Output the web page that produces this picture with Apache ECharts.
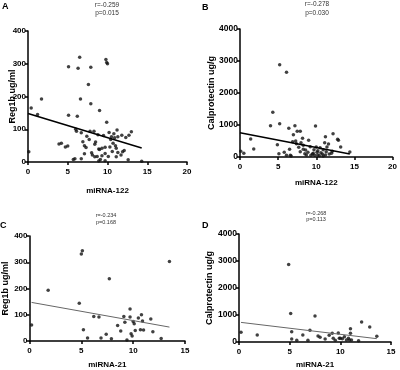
<!DOCTYPE html>
<html>
<head>
<meta charset="utf-8">
<script src="https://cdn.jsdelivr.net/npm/echarts@6/dist/echarts.min.js"></script>
<style>
  html, body { margin: 0; padding: 0; background: #fff; }
  #chart { width: 400px; height: 370px; }
</style>
</head>
<body>
<div id="chart"></div>
<script>
// Panel A: miRNA-122 vs Reg1b
const a_x = [0.1, 0.4, 1.2, 1.7, 3.9, 4.2, 4.7, 5.0, 5.1, 5.1, 5.7, 5.9, 6.0, 6.1, 6.2, 6.3, 6.5, 6.6, 6.7, 6.7,
  6.9, 7.1, 7.1, 7.3, 7.4, 7.6, 7.7, 7.8, 7.9, 7.9, 8.0, 8.1, 8.3, 8.4, 8.4, 8.5, 8.7, 8.8, 8.9, 8.9,
  9.0, 9.0, 9.1, 9.3, 9.3, 9.5, 9.7, 9.8, 9.9, 9.9, 10.0, 9.7, 9.7, 10.1, 10.2, 10.3, 10.4, 10.5, 10.6, 10.7,
  10.8, 10.9, 11.0, 11.1, 11.1, 11.2, 11.3, 11.3, 11.7, 11.8, 11.9, 12.1, 12.3, 12.6, 12.7, 13.0, 14.3];
const a_y = [31, 165, 145, 192, 55, 57, 46, 49, 291, 143, 8, 10, 100, 94, 140, 286, 320, 192, 89, 10,
  62, 50, 25, 44, 79, 237, 69, 94, 289, 178, 28, 21, 94, 54, 16, 61, 17, 83, 40, 3,
  157, 38, 8, 19, 42, 81, 4, 313, 121, 304, 300, 26, 45, 17, 90, 46, 69, 77, 32, 57,
  86, 74, 50, 42, 16, 98, 29, 77, 21, 82, 31, 35, 75, 7, 82, 92, 2];
const a_fit_x = [0, 14.3];
const a_fit_y = [148, 43];

// Panel B: miRNA-122 vs Calprotectin
const b_x = [0.1, 0.5, 1.4, 1.8, 4.0, 4.3, 4.9, 5.2, 5.2, 5.1, 5.8, 6.1, 6.1, 6.4, 6.5, 6.6, 6.7, 6.9, 7.0, 7.2,
  7.3, 7.4, 7.5, 7.9, 7.7, 7.9, 8.0, 8.2, 8.3, 8.3, 8.5, 8.6, 8.7, 8.9, 9.0, 9.2, 9.3, 9.5, 9.7, 9.8,
  9.9, 10.0, 10.2, 10.2, 10.4, 10.5, 10.6, 10.8, 10.9, 11.1, 11.2, 11.2, 11.3, 11.4, 11.6, 11.7, 12.0, 12.1, 12.2, 12.8,
  12.9, 13.2, 14.4, 9.6, 10.1, 10.9];
const b_y = [177, 115, 562, 250, 979, 1396, 385, 1042, 2885, 104, 146, 2646, 52, 896, 240, 52, 31, 479, 698, 979,
  500, 417, 802, 802, 302, 167, 448, 583, 365, 240, 104, 219, 62, 146, 521, 323, 52, 94, 229, 52,
  969, 313, 62, 198, 42, 292, 135, 94, 229, 448, 62, 635, 167, 313, 406, 94, 115, 177, 729, 552,
  521, 313, 156, 120, 150, 30];
const b_fit_x = [0, 14.4];
const b_fit_y = [760, 95];

// Panel C: miRNA-21 vs Reg1b
const c_x = [0.2, 1.8, 4.8, 5.0, 5.1, 5.2, 5.6, 6.2, 6.7, 6.9, 7.4, 7.7, 7.9, 8.5, 8.8, 9.1, 9.2, 9.4, 9.7, 9.7,
  9.8, 9.9, 10.0, 10.1, 10.2, 10.5, 10.7, 10.8, 10.9, 11.0, 11.7, 11.9, 12.7, 13.5];
const c_y = [61, 193, 144, 331, 344, 43, 11, 93, 91, 11, 26, 237, 9, 59, 38, 93, 71, 4, 122, 91,
  28, 19, 74, 66, 40, 88, 43, 100, 76, 42, 84, 35, 10, 303];
const c_fit_x = [0.2, 13.5];
const c_fit_y = [147, 53];

// Panel D: miRNA-21 vs Calprotectin
const d_x = [0.2, 1.8, 4.9, 5.1, 5.2, 5.2, 5.7, 6.3, 6.8, 7.0, 7.5, 7.8, 8.0, 8.5, 8.9, 9.2, 9.3, 9.5, 9.8, 9.9,
  10.0, 10.2, 10.4, 10.6, 10.8, 11.0, 11.0, 10.9, 11.1, 11.8, 12.1, 12.9, 13.6];
const d_y = [357, 258, 2868, 1058, 111, 382, 62, 258, 62, 431, 960, 222, 172, 111, 246, 320, 135, 62, 332, 135,
  135, 123, 197, 74, 135, 492, 320, 74, 74, 49, 738, 554, 209];
const d_fit_x = [0.2, 13.6];
const d_fit_y = [726, 123];

const panelLabels = ["A", "B", "C", "D"];
const stats = ["r=-0.259\np=0.015", "r=-0.278\np=0.030", "r=-0.234\np=0.168", "r=-0.268\np=0.113"];
const xNames = ["miRNA-122", "miRNA-122", "miRNA-21", "miRNA-21"];
const yNames = ["Reg1b ug/ml", "Calprotectin ug/g", "Reg1b ug/ml", "Calprotectin ug/g"];

const zip = (xs, ys) => xs.map((v, i) => [v, ys[i]]);

const chart = echarts.init(document.getElementById("chart"));

const font = "Liberation Sans, Arial, sans-serif";

const grids = [
  { left: 28, right: 213, top: 31, bottom: 208 },
  { left: 240, right: 5, top: 29, bottom: 213 },
  { left: 28, right: 215, top: 236, bottom: 26 },
  { left: 239, right: 9, top: 234, bottom: 28 },
];

const xMax = [20, 20, 15, 15];
const yMax = [400, 4000, 400, 4000];
const yStep = [100, 1000, 100, 1000];
const xNameGap = [25, 22, 20, 19];
const yNameGap = [10.5, 23.5, 19.5, 24.5];
const yLabelSize = [8, 8.5, 8, 8.5];

const axisLine = { lineStyle: { color: "#000", width: 1.5 } };
const axisTick = { length: 3, lineStyle: { color: "#000", width: 1.5 } };

const xAxes = grids.map((g, i) => ({
  gridIndex: i,
  type: "value",
  min: 0,
  max: xMax[i],
  interval: 5,
  splitLine: { show: false },
  axisLine: axisLine,
  axisTick: axisTick,
  axisLabel: { fontSize: 8, fontWeight: "bold", color: "#000", fontFamily: font, margin: 6 },
  name: xNames[i],
  nameLocation: "middle",
  nameGap: xNameGap[i],
  nameMoveOverlap: false,
  nameTextStyle: { fontSize: 8, fontWeight: "bold", color: "#000", fontFamily: font },
}));

const yAxes = grids.map((g, i) => ({
  gridIndex: i,
  type: "value",
  min: 0,
  max: yMax[i],
  interval: yStep[i],
  splitLine: { show: false },
  axisLine: axisLine,
  axisTick: axisTick,
  axisLabel: {
    fontSize: yLabelSize[i], fontWeight: "bold", color: "#000", fontFamily: font, margin: 2,
    formatter: (v) => String(v),
  },
  name: yNames[i],
  nameLocation: "middle",
  nameGap: yNameGap[i],
  nameMoveOverlap: false,
  nameTextStyle: { fontSize: 9, fontWeight: "bold", color: "#000", fontFamily: font },
}));

const scatterData = [zip(a_x, a_y), zip(b_x, b_y), zip(c_x, c_y), zip(d_x, d_y)];
const fitData = [zip(a_fit_x, a_fit_y), zip(b_fit_x, b_fit_y), zip(c_fit_x, c_fit_y), zip(d_fit_x, d_fit_y)];
const fitColor = ["#000", "#000", "#666", "#666"];
const fitWidth = [1.6, 1.6, 1, 1];

const series = [];
scatterData.forEach((d, i) => {
  series.push({
    type: "scatter",
    xAxisIndex: i,
    yAxisIndex: i,
    data: d,
    symbolSize: 3.5,
    itemStyle: { color: "#111" },
  });
  series.push({
    type: "line",
    xAxisIndex: i,
    yAxisIndex: i,
    data: fitData[i],
    symbol: "none",
    lineStyle: { color: fitColor[i], width: fitWidth[i] },
  });
});

const labelPos = [[2, 2.5], [202, 3.5], [0, 221.5], [202, 221.5]];
const statPos = [[107, 1], [317, 0], [106, 212.5], [316, 210]];
const statSize = [6.5, 6.5, 5.5, 5.5];
const statLine = [8, 8.5, 6.5, 6.5];

const titles = [];
panelLabels.forEach((t, i) => {
  titles.push({
    text: t,
    left: labelPos[i][0],
    top: labelPos[i][1],
    padding: 0,
    textStyle: { fontSize: 9, fontWeight: "bold", color: "#000", fontFamily: font },
  });
  titles.push({
    text: stats[i],
    left: statPos[i][0],
    top: statPos[i][1],
    padding: 0,
    textAlign: "center",
    textStyle: { fontSize: statSize[i], fontWeight: "normal", color: "#333", fontFamily: font, lineHeight: statLine[i] },
  });
});

const option = {
  animation: false,
  title: titles,
  grid: grids,
  xAxis: xAxes,
  yAxis: yAxes,
  series: series,
};

chart.setOption(option);
</script>
</body>
</html>
